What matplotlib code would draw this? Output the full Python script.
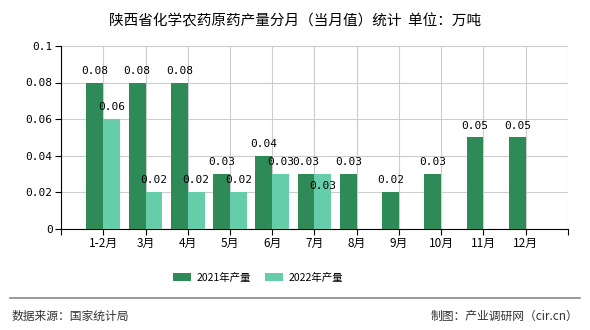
import matplotlib.pyplot as plt
import numpy as np

plt.rcParams['font.family'] = ['Noto Sans CJK SC', 'DejaVu Sans']

months = ['1-2月', '3月', '4月', '5月', '6月', '7月', '8月', '9月', '10月', '11月', '12月']
v2021 = [0.08, 0.08, 0.08, 0.03, 0.04, 0.03, 0.03, 0.02, 0.03, 0.05, 0.05]
v2022 = [0.06, 0.02, 0.02, 0.02, 0.03, 0.03]

c2021 = '#2E8B57'
c2022 = '#66CDAA'

fig = plt.figure(figsize=(5.9, 3.3), dpi=100)
ax = fig.add_axes([0.1034, 0.306, 0.8593, 0.555])

x = np.arange(1, len(months) + 1)
w = 0.4
b1 = ax.bar(x - w / 2, v2021, w, color=c2021, label='2021年产量', zorder=3)
x2 = x[:len(v2022)]
b2 = ax.bar(x2 + w / 2, v2022, w, color=c2022, label='2022年产量', zorder=3)

mono = 'DejaVu Sans Mono'
for xi, v in zip(x - w / 2, v2021):
    ax.annotate(f'{v:g}', (xi, v), xytext=(0, 5), textcoords='offset points',
                ha='center', va='bottom', fontsize=8, family=mono)
for i, (xi, v) in enumerate(zip(x2 + w / 2, v2022)):
    dy = -12 if i == 5 else 5
    ax.annotate(f'{v:g}', (xi, v), xytext=(0, dy), textcoords='offset points',
                ha='center', va='bottom', fontsize=8, family=mono, zorder=4)

ax.set_xlim(0, 12)
ax.set_ylim(0, 0.1)
ax.set_xticks(np.arange(0, 13))
ax.set_xticklabels([''] + months + [''], fontsize=8.5)
ax.set_yticks([0, 0.02, 0.04, 0.06, 0.08, 0.1])
ax.set_yticklabels(['0', '0.02', '0.04', '0.06', '0.08', '0.1'], family=mono, fontsize=8)
ax.grid(True, color='#cccccc', linewidth=0.8, zorder=0)
ax.spines['top'].set_visible(False)
ax.spines['right'].set_visible(False)
ax.tick_params(length=4, width=0.8, pad=2)

fig.text(0.5, 0.935, '陕西省化学农药原药产量分月（当月值）统计  单位：万吨',
         ha='center', va='center', fontsize=10.5)
fig.legend(handles=[b1, b2], loc='center', bbox_to_anchor=(0.437, 0.158), ncol=2,
           frameon=False, fontsize=7.5, handlelength=1.8, handleheight=0.8,
           columnspacing=1.3, handletextpad=0.5)
fig.add_artist(plt.Line2D([0.017, 0.983], [0.097, 0.097], color='#888888', linewidth=1.2))
fig.text(0.02, 0.042, '数据来源：国家统计局', ha='left', va='center', fontsize=8.5, color='#333333')
fig.text(0.98, 0.042, '制图：产业调研网（cir.cn）', ha='right', va='center', fontsize=8.5, color='#333333')

fig.savefig('out.png', dpi=100)
